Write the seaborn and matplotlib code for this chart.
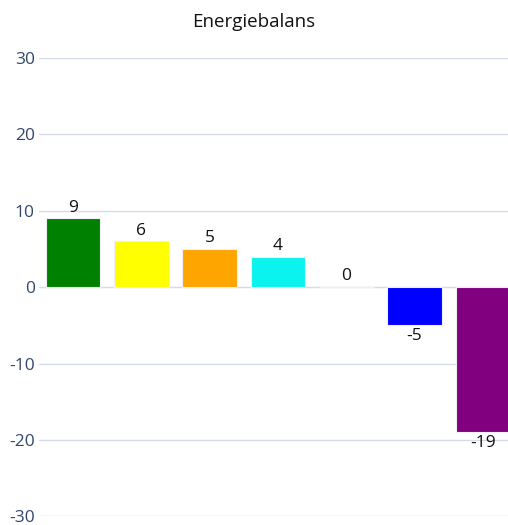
import matplotlib
matplotlib.use("Agg")
import matplotlib.pyplot as plt
import seaborn as sns
import pandas as pd

categories = ["A", "B", "C", "D", "E", "F", "G"]
values = [9, 6, 5, 4, 0, -5, -19]
colors = ["#008000", "#FFFF00", "#FFA500", "#0AF3EE", "#FF0000", "#0000FF", "#800080"]
y_ticks = [-30, -20, -10, 0, 10, 20, 30]

sns.set_theme(style="white")
plt.rcParams["font.family"] = ["Open Sans", "DejaVu Sans"]

df = pd.DataFrame({"cat": categories, "val": values})

fig = plt.figure(figsize=(5.08, 5.25), dpi=100)
ax = fig.add_axes([0.0768, 0.0165, 0.941, 0.873])

sns.barplot(data=df, x="cat", y="val", hue="cat", palette=colors, saturation=1,
            legend=False, width=0.8, ax=ax, edgecolor="#eef0f5", linewidth=0.8,
            zorder=3)

ax.set_ylim(-30, 30)
ax.set_yticks(y_ticks)
ax.set_yticklabels([str(t) for t in y_ticks], color="#34476b", fontsize=12.5)
ax.tick_params(axis="y", length=0, pad=3)
ax.set_xticks([])
ax.set_xlabel("")
ax.set_ylabel("")
ax.set_xlim(-0.5, len(categories) - 0.5)
for t in y_ticks:
    ax.axhline(t, color="#d5dbe8", linewidth=1, zorder=1)
for s in ax.spines.values():
    s.set_visible(False)

for i, v in enumerate(values):
    if v >= 0:
        ax.annotate(str(v), (i, v), xytext=(0, 2), textcoords="offset points",
                    ha="center", va="bottom", fontsize=12.5, color="#111111")
    else:
        ax.annotate(str(v), (i, v), xytext=(0, -2), textcoords="offset points",
                    ha="center", va="top", fontsize=12.5, color="#111111")

fig.text(0.5, 1 - 22 / 525, "Energiebalans", ha="center", va="center",
         fontsize=13.5, color="#111111")

fig.savefig("out.png", dpi=100)
